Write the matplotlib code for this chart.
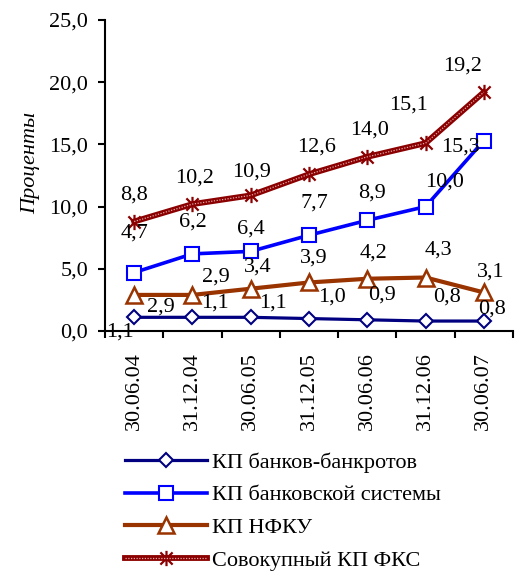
import numpy as np
import matplotlib.pyplot as plt
from matplotlib.path import Path
from matplotlib.legend_handler import HandlerTuple

plt.rcParams['font.family'] = ['Liberation Serif', 'DejaVu Serif']

# данные
dates = ['30.06.04', '31.12.04', '30.06.05', '31.12.05', '30.06.06', '31.12.06', '30.06.07']
kp_bankrupt = [1.1, 1.1, 1.1, 1.0, 0.9, 0.8, 0.8]
kp_banks = [4.7, 6.2, 6.4, 7.7, 8.9, 10.0, 15.3]
kp_nfku = [2.9, 2.9, 3.4, 3.9, 4.2, 4.3, 3.1]
kp_total = [8.8, 10.2, 10.9, 12.6, 14.0, 15.1, 19.2]

names = ['КП банков-банкротов', 'КП банковской системы', 'КП НФКУ', 'Совокупный КП ФКС']

# label offsets in pixels (dx, dy), hand placed like in the original
off_bankrupt = [(-14, -15), (23, 14), (22, 14), (23, 22), (15, 25), (21, 24), (8, 12)]
off_banks = [(0, 39), (0, 32), (0, 22), (5, 32), (5, 27), (19, 25), (-23, -6)]
off_nfku = [(27, -12), (23, 18), (7, 22), (5, 24), (6, 26), (13, 27), (7, 20)]
off_total = [(0, 26), (2, 26), (1, 23), (8, 27), (2, 27), (-17, 38), (-21, 26)]

star = Path([(-1, -1), (1, 1), (-1, 1), (1, -1), (0, -1.25), (0, 1.25)],
            [Path.MOVETO, Path.LINETO, Path.MOVETO, Path.LINETO, Path.MOVETO, Path.LINETO])

fig = plt.figure(figsize=(5.15, 5.71), dpi=100)
ax = fig.add_axes([105/515, 1-331/571, 408/515, 311/571])

x = np.arange(len(dates))

l1, = ax.plot(x, kp_bankrupt, color='#000080', lw=2.3, marker='D', ms=7,
              mfc='white', mec='#000080', mew=1.5, zorder=4)
l2, = ax.plot(x, kp_banks, color='#0000FF', lw=2.6, marker='s', ms=10,
              mfc='white', mec='#0000FF', mew=1.5, zorder=4)
l3, = ax.plot(x, kp_nfku, color='#993300', lw=3.0, marker='^', ms=11,
              mfc='white', mec='#993300', mew=1.8, zorder=4)
l4a, = ax.plot(x, kp_total, color='#8b0000', lw=4.2, marker=star, ms=11,
               mec='#8b0000', mew=1.6, zorder=3)
l4b, = ax.plot(x, kp_total, color='#e0a8a8', lw=0.9, ls=(0, (1, 1.2)), zorder=3)

for vals, offs in [(kp_bankrupt, off_bankrupt), (kp_banks, off_banks),
                   (kp_nfku, off_nfku), (kp_total, off_total)]:
    for i, v in enumerate(vals):
        ax.annotate(('%.1f' % v).replace('.', ','), (x[i], v), xytext=offs[i],
                    textcoords='offset pixels', ha='center', va='center',
                    fontsize=16, zorder=5)

ax.set_xlim(-0.5, len(dates) - 0.5)
ax.set_ylim(0, 25)
ax.set_yticks(np.arange(0, 26, 5))
ax.set_yticklabels([('%.1f' % t).replace('.', ',') for t in np.arange(0, 26, 5)], fontsize=16)
ax.set_xticks(x)
ax.set_xticklabels(dates, rotation=90, fontsize=16)
ax.set_xticks(np.arange(-0.5, len(dates)), minor=True)
ax.tick_params(axis='x', which='major', length=0, pad=15)
ax.tick_params(axis='x', which='minor', length=5, width=1.5, direction='out')
ax.tick_params(axis='y', length=5, width=1.5, direction='out', pad=7)

for s in ['top', 'right']:
    ax.spines[s].set_visible(False)
for s in ['left', 'bottom']:
    ax.spines[s].set_linewidth(1.5)

fig.text(31/515, 1-163/571, 'Проценты', rotation=90, style='italic',
         fontsize=16, ha='center', va='center')

fig.legend([l1, l2, l3, (l4a, l4b)], names, loc='upper left',
           bbox_to_anchor=(125/515, 1-452/571), frameon=False, fontsize=16,
           handlelength=3.7, handletextpad=0.2, labelspacing=0.55,
           borderaxespad=0, borderpad=0,
           handler_map={tuple: HandlerTuple(ndivide=1, pad=0)})

fig.savefig('out.png', dpi=100)
